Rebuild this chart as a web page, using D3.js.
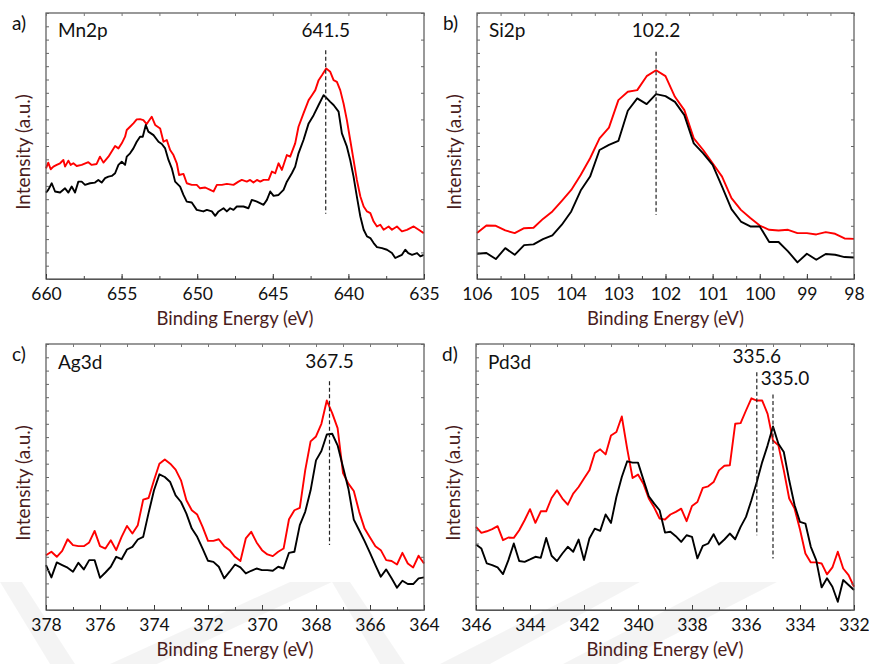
<!DOCTYPE html>
<html>
<head>
<meta charset="utf-8">
<script src="https://cdn.jsdelivr.net/npm/d3@7"></script>
<style>
  body { margin: 0; background: #fff; }
  svg text { font-family: Lato, "Open Sans", sans-serif; }
</style>
</head>
<body>
<svg id="chart" width="869" height="664"></svg>
<script>
// [binding energy (eV), intensity (a.u.)]
const mnRed = [[660.00,41.6],[659.85,43.75],[659.69,41.25],[659.51,42.25],[659.29,42.9],[659.07,43.5],[658.85,44.75],[658.74,42.25],[658.52,44.5],[658.37,42.9],[658.19,43.5],[657.97,42.5],[657.64,42.9],[657.20,43.9],[656.98,42.9],[656.65,43.25],[656.43,46],[656.20,43.75],[655.87,46],[655.43,50],[655.21,49.1],[654.99,51],[654.77,53.5],[654.66,56],[654.44,57.25],[654.22,58.5],[654.00,60],[653.78,60.1],[653.56,59.75],[653.34,58.25],[653.01,61],[652.78,57.9],[652.45,56.6],[652.23,51.6],[652.01,52.25],[651.79,48.5],[651.57,46.6],[651.35,43.5],[651.20,39.1],[650.91,39.5],[650.69,36],[650.36,35.4],[650.03,35.4],[649.81,34.1],[649.47,34.4],[649.14,33.5],[648.92,32.9],[648.70,35.4],[648.37,35.4],[648.04,35.75],[647.60,35.4],[647.27,36.6],[647.05,37.25],[646.72,36.6],[646.50,37.25],[646.28,36.25],[646.05,37.25],[645.83,36.6],[645.61,37.25],[645.28,37.25],[645.06,40.4],[644.84,39.75],[644.62,43.5],[644.40,41],[644.07,46.6],[643.85,46],[643.52,51],[643.30,57.25],[642.97,62.25],[642.63,67.25],[642.41,69.1],[642.19,71],[641.97,74.75],[641.75,76.6],[641.47,79.1],[641.20,77.9],[640.98,74.75],[640.76,74.1],[640.54,71],[640.32,66],[640.10,59.75],[639.88,52.25],[639.66,44.75],[639.44,37.25],[639.21,31],[638.99,27.25],[638.77,25.4],[638.55,24.75],[638.33,21.6],[638.11,19.75],[637.89,20.4],[637.67,18.5],[637.34,19.75],[637.12,18.5],[636.79,19.75],[636.46,17.9],[636.13,18.5],[635.68,19.75],[635.35,18.5],[635.02,17.25]];
const mnBlack = [[660.00,32.5],[659.85,33.5],[659.62,36],[659.40,32.9],[659.07,32.5],[658.74,34.1],[658.52,32.5],[658.30,34.75],[658.08,32.5],[657.86,36.6],[657.64,36.6],[657.42,35.4],[657.09,36],[656.76,36.25],[656.54,37.25],[656.32,36.25],[656.09,37.9],[655.87,38.5],[655.65,38.75],[655.43,39.75],[655.21,42.9],[654.99,44.1],[654.77,42.9],[654.66,46],[654.44,47.25],[654.22,49.1],[654.00,51.6],[653.78,53.5],[653.60,53.5],[653.40,57.9],[653.23,55.4],[652.89,54.1],[652.56,51.6],[652.34,50.75],[652.12,49.1],[651.90,44.75],[651.68,41.6],[651.46,36.6],[651.13,34.75],[650.91,31.6],[650.69,29.1],[650.36,28.75],[650.03,26],[649.59,25.4],[649.36,26],[649.03,25.4],[648.81,23.75],[648.59,25.4],[648.26,26.6],[648.04,25.4],[647.82,26.6],[647.60,26],[647.38,27.25],[646.94,27.25],[646.61,26.6],[646.39,29.75],[646.05,29.1],[645.61,27.9],[645.39,29.75],[645.17,32.9],[644.95,31.25],[644.62,31.6],[644.29,33.5],[644.07,36.6],[643.74,39.75],[643.52,42.25],[643.30,47.25],[642.97,52.25],[642.63,58.5],[642.30,61.6],[641.97,65.4],[641.64,69.1],[641.42,67.9],[641.20,66.6],[640.98,65.4],[640.65,62.9],[640.43,54.75],[640.10,49.75],[639.88,44.75],[639.66,38.5],[639.44,31],[639.21,23.5],[638.99,18.5],[638.77,16],[638.55,15.4],[638.33,13.5],[638.11,12],[637.78,11.6],[637.45,11],[637.12,9.75],[636.90,7.9],[636.68,8.5],[636.46,9.1],[636.24,11],[636.04,9.75],[635.79,9.1],[635.46,9.75],[635.24,8.5],[635.02,9.1]];

const siRed = [[106.0,17.25],[105.8,20.1],[105.6,20],[105.4,18.25],[105.2,17.25],[105.0,19.1],[104.8,19.25],[104.6,22.6],[104.4,25.4],[104.2,29.4],[104.0,33.5],[103.8,39.1],[103.6,45.4],[103.4,52.9],[103.2,56.9],[103.0,67.25],[102.8,70.4],[102.6,71],[102.4,76.25],[102.2,78.5],[102.0,76.25],[101.8,68.5],[101.6,63.5],[101.4,52.9],[101.2,48.5],[101.0,43.5],[100.8,38.5],[100.6,30.4],[100.4,26],[100.2,22.9],[100.0,20.1],[99.8,18.5],[99.6,18.25],[99.4,18.5],[99.2,17.25],[99.0,17.25],[98.8,16.75],[98.6,17.6],[98.4,17],[98.2,15.25],[98.0,15.1]];
const siBlack = [[106.0,9.5],[105.8,9.75],[105.6,7.5],[105.4,11.6],[105.2,9.1],[105.0,12.75],[104.8,13],[104.6,15],[104.4,16.4],[104.2,20.4],[104.0,25.4],[103.8,33.25],[103.6,38.5],[103.4,48.5],[103.2,50.4],[103.0,51.9],[102.8,63.25],[102.6,67.9],[102.4,65.75],[102.2,69.5],[102.0,68.75],[101.8,66.6],[101.6,61.6],[101.4,51],[101.2,47.25],[101.0,42.9],[100.8,34.75],[100.6,26.25],[100.4,21.6],[100.2,19.75],[100.0,19.75],[99.8,13.9],[99.6,13.9],[99.4,10.4],[99.2,6.25],[99.0,9.5],[98.8,7.25],[98.6,9.4],[98.4,9.1],[98.2,8.25],[98.0,8.1]];

const agRed = [[378.0,20.6],[377.8,21.9],[377.6,20],[377.4,22.25],[377.2,26.6],[377.0,24.4],[376.8,24],[376.6,24],[376.4,25.4],[376.2,29.75],[376.0,24],[375.8,23.1],[375.6,26.25],[375.4,22.5],[375.2,27.5],[375.0,31.6],[374.8,28.75],[374.6,31.9],[374.4,41.5],[374.2,42.1],[374.0,48.75],[373.8,55],[373.6,56.6],[373.4,55],[373.2,52.75],[373.0,48.75],[372.8,41.25],[372.6,37.5],[372.4,35.9],[372.2,31.25],[372.0,26],[371.8,26],[371.6,26.6],[371.4,24],[371.2,22.5],[371.0,20],[370.8,18.4],[370.6,26.9],[370.4,29.4],[370.2,25.4],[370.0,22.5],[369.8,20.9],[369.6,20.25],[369.4,21.9],[369.2,23.1],[369.0,34.1],[368.8,37.5],[368.6,38.4],[368.4,52.5],[368.2,63.4],[368.0,65.25],[367.8,70],[367.6,78.75],[367.4,74],[367.2,68.4],[367.0,51.5],[366.8,47.5],[366.6,44.75],[366.4,36.9],[366.2,30.6],[366.0,27.25],[365.8,24],[365.6,22.5],[365.4,18.75],[365.2,18.4],[365.0,17.1],[364.8,21.5],[364.6,17.5],[364.4,16],[364.2,20.4],[364.0,17.5]];
const agBlack = [[378.0,16.9],[377.8,12.25],[377.6,17.9],[377.4,16.9],[377.2,15.9],[377.0,14.4],[376.8,17.75],[376.6,15.25],[376.4,18.75],[376.2,18.75],[376.0,12.1],[375.8,14.1],[375.6,16.25],[375.4,20],[375.2,19.1],[375.0,22.75],[374.8,23.75],[374.6,26.5],[374.4,27.5],[374.2,36.5],[374.0,45],[373.8,51],[373.6,50],[373.4,48.1],[373.2,43.1],[373.0,40.6],[372.8,36.25],[372.6,30.6],[372.4,27.5],[372.2,23.1],[372.0,18.5],[371.8,18.1],[371.6,16.25],[371.4,11.9],[371.2,14.4],[371.0,17.1],[370.8,16],[370.6,13.75],[370.4,14.75],[370.2,15.6],[370.0,15],[369.8,15],[369.6,14.75],[369.4,16.25],[369.2,15.6],[369.0,21.5],[368.8,21.9],[368.6,31.9],[368.4,36.9],[368.2,45],[368.0,56.25],[367.8,59.75],[367.6,66],[367.4,66.25],[367.2,61.9],[367.0,53.75],[366.8,45.6],[366.6,34],[366.4,30],[366.2,25.9],[366.0,21.5],[365.8,16.9],[365.6,12.5],[365.4,15.25],[365.2,11.9],[365.0,8.4],[364.8,11],[364.6,9.75],[364.4,9.75],[364.2,11.9],[364.0,12.25]];

const pdRed = [[346.0,31.25],[345.8,29],[345.6,29.6],[345.4,30.4],[345.2,31.5],[345.0,26.25],[344.8,27.25],[344.6,27.1],[344.4,30],[344.2,33.75],[344.0,37.9],[343.8,32.75],[343.6,37.1],[343.4,37.1],[343.2,42.1],[343.0,45],[342.8,41.9],[342.6,39.6],[342.4,43.75],[342.2,46.25],[342.0,49.4],[341.8,52.5],[341.6,59],[341.4,60.4],[341.2,58.5],[341.0,65.6],[340.8,66.9],[340.6,72.75],[340.4,60.6],[340.2,49.6],[340.0,50.9],[339.8,47.5],[339.6,41.9],[339.4,38.5],[339.2,34.4],[339.0,34],[338.8,35.9],[338.6,36.9],[338.4,38.1],[338.2,33.4],[338.0,39.1],[337.8,40.6],[337.6,45.9],[337.4,46.5],[337.2,48.1],[337.0,52.5],[336.8,54.25],[336.6,54.4],[336.4,70],[336.2,70.25],[336.0,75],[335.8,79.6],[335.6,78.75],[335.4,78.75],[335.2,73.75],[335.0,63.75],[334.8,61.9],[334.6,52.5],[334.4,41.9],[334.2,38.1],[334.0,30.25],[333.8,21.25],[333.6,17.9],[333.4,17.9],[333.2,17.5],[333.0,13.4],[332.8,16],[332.6,21.9],[332.4,15.6],[332.2,13.1],[332.0,8.75]];
const pdBlack = [[346.0,24.6],[345.8,23.1],[345.6,17.5],[345.4,16.9],[345.2,16],[345.0,13.5],[344.8,18.75],[344.6,25],[344.4,18.4],[344.2,18.1],[344.0,19],[343.8,20],[343.6,19.6],[343.4,27.1],[343.2,20.4],[343.0,18.4],[342.8,21.25],[342.6,23.75],[342.4,21.9],[342.2,26.5],[342.0,18.75],[341.8,26.9],[341.6,30.6],[341.4,29.75],[341.2,35.9],[341.0,32.75],[340.8,42.5],[340.6,50],[340.4,55.9],[340.2,55.4],[340.0,55.4],[339.8,49],[339.6,42.75],[339.4,40],[339.2,37.5],[339.0,29.1],[338.8,29.4],[338.6,27.75],[338.4,25.6],[338.2,28.1],[338.0,27.5],[337.8,19.4],[337.6,24.1],[337.4,25],[337.2,28.5],[337.0,24.6],[336.8,26.5],[336.6,28.75],[336.4,26.6],[336.2,31.25],[336.0,35],[335.8,41.25],[335.6,48.1],[335.4,55.6],[335.2,61.9],[335.0,69],[334.8,62.5],[334.6,59.4],[334.4,48.75],[334.2,39.4],[334.0,33.1],[333.8,32.5],[333.6,23.75],[333.4,18.75],[333.2,8.5],[333.0,11.9],[332.8,8.75],[332.6,3.1],[332.4,11.25],[332.2,9.4],[332.0,7.5]];

// peak markers: [position, top, bottom]
const mnPeaks = [[641.5, 86, 24.5]];
const siPeaks = [[102.2, 85.4, 24.1]];
const agPeaks = [[367.5, 86, 24.4]];
const pdPeaks = [[335.6, 89.4, 28.1], [335.0, 81, 19.4]];

const mnTicks = [660, 655, 650, 645, 640, 635];
const siTicks = [106, 105, 104, 103, 102, 101, 100, 99, 98];
const agTicks = [378, 376, 374, 372, 370, 368, 366, 364];
const pdTicks = [346, 344, 342, 340, 338, 336, 334, 332];

const svg = d3.select("#chart");
const labelColor = "#4a1d1d";
const frameColor = "#555";

// faint background watermark
const marks = [
    [[0, 582], [22, 582], [75, 664], [50, 664]],
    [[290, 582], [332, 582], [157, 664], [110, 664]],
    [[332, 582], [350, 582], [405, 664], [380, 664]],
    [[600, 582], [640, 582], [490, 664], [440, 664]],
    [[720, 582], [777, 582], [617, 664], [563, 664]]
];
svg.append("g").selectAll("path").data(marks).enter().append("path")
    .attr("d", d => "M" + d.join("L") + "Z")
    .attr("fill", "#000").attr("opacity", 0.045);

const panels = [
    { letter: "a)", name: "Mn2p", box: [46, 424, 13, 279], domain: [660, 635], ticks: mnTicks, minor: 2.5,
      red: mnRed, black: mnBlack, peaks: mnPeaks, labels: [{ text: "641.5", at: 641.5, dy: 24, anchor: "middle" }], nameDy: 24 },
    { letter: "b)", name: "Si2p", box: [477, 854, 13, 279], domain: [106, 98], ticks: siTicks, minor: 0.5,
      red: siRed, black: siBlack, peaks: siPeaks, labels: [{ text: "102.2", at: 102.2, dy: 24, anchor: "middle" }], nameDy: 24 },
    { letter: "c)", name: "Ag3d", box: [46, 424, 344, 610], domain: [378, 364], ticks: agTicks, minor: 1,
      red: agRed, black: agBlack, peaks: agPeaks, labels: [{ text: "367.5", at: 367.5, dy: 24, anchor: "middle" }], nameDy: 25 },
    { letter: "d)", name: "Pd3d", box: [476, 854, 344, 610], domain: [346, 332], ticks: pdTicks, minor: 1,
      red: pdRed, black: pdBlack, peaks: pdPeaks,
      labels: [{ text: "335.6", at: 335.6, dy: 19, anchor: "middle" }, { text: "335.0", at: 335.0, dy: 41, anchor: "middle", dx: 12 }], nameDy: 25 }
];

panels.forEach(drawPanel);

function drawPanel(p) {
    const [left, right, top, bottom] = p.box;
    const x = d3.scaleLinear().domain(p.domain).range([left, right]);
    const y = d3.scaleLinear().domain([0, 100]).range([bottom, top]);
    const g = svg.append("g");

    const line = d3.line().x(d => x(d[0])).y(d => y(d[1]));
    g.append("path").datum(p.red).attr("d", line)
        .attr("fill", "none").attr("stroke", "#ff0000").attr("stroke-width", 1.9).attr("stroke-linejoin", "round");
    g.append("path").datum(p.black).attr("d", line)
        .attr("fill", "none").attr("stroke", "#000").attr("stroke-width", 1.9).attr("stroke-linejoin", "round");

    g.selectAll(".peak").data(p.peaks).enter().append("line")
        .attr("x1", d => x(d[0])).attr("x2", d => x(d[0]))
        .attr("y1", d => y(d[1])).attr("y2", d => y(d[2]))
        .attr("stroke", "#222").attr("stroke-width", 1.2).attr("stroke-dasharray", "4,2.5");

    // frame
    g.append("rect").attr("x", left).attr("y", top)
        .attr("width", right - left).attr("height", bottom - top)
        .attr("fill", "none").attr("stroke", frameColor).attr("stroke-width", 1.2);

    // bottom axis, ticks pointing inward
    const lo = Math.min(...p.domain), hi = Math.max(...p.domain);
    const minorTicks = d3.range(lo, hi + 1e-9, p.minor);
    g.append("g").attr("transform", `translate(0,${bottom})`)
        .call(d3.axisBottom(x).tickValues(p.ticks).tickFormat(d3.format("d")).tickSizeInner(-5).tickSizeOuter(0))
        .call(a => a.select(".domain").attr("stroke", frameColor))
        .call(a => a.selectAll(".tick line").attr("stroke", "#333"))
        .call(a => a.selectAll("text").attr("y", 9).attr("dy", "0.71em")
            .attr("font-size", 17.5).attr("fill", "#111").style("font-family", "Lato, sans-serif"));
    g.append("g").attr("transform", `translate(0,${bottom})`)
        .call(d3.axisBottom(x).tickValues(minorTicks).tickFormat("").tickSizeInner(-3).tickSizeOuter(0))
        .call(a => a.select(".domain").remove())
        .call(a => a.selectAll(".tick line").attr("stroke", "#444"));
    g.append("g").attr("transform", `translate(0,${top})`)
        .call(d3.axisTop(x).tickValues(minorTicks).tickFormat("").tickSizeInner(-3).tickSizeOuter(0))
        .call(a => a.select(".domain").remove())
        .call(a => a.selectAll(".tick line").attr("stroke", "#777"));

    // unlabeled intensity ticks
    g.append("g").attr("transform", `translate(${left},0)`)
        .call(d3.axisLeft(y).ticks(16).tickFormat("").tickSizeInner(-3).tickSizeOuter(0))
        .call(a => a.select(".domain").remove())
        .call(a => a.selectAll(".tick line").attr("stroke", "#666"));
    g.append("g").attr("transform", `translate(${right},0)`)
        .call(d3.axisRight(y).ticks(10).tickFormat("").tickSizeInner(-3).tickSizeOuter(0))
        .call(a => a.select(".domain").remove())
        .call(a => a.selectAll(".tick line").attr("stroke", "#666"));

    g.append("text").attr("x", (left + right) / 2 + 0).attr("y", bottom + 46)
        .attr("text-anchor", "middle").attr("font-size", 18.5).attr("fill", labelColor)
        .text("Binding Energy (eV)");
    g.append("text")
        .attr("transform", `translate(${left - 24},${(top + bottom) / 2 + 6}) rotate(-90)`)
        .attr("text-anchor", "middle").attr("dominant-baseline", "central")
        .attr("font-size", 19).attr("fill", labelColor)
        .text("Intensity (a.u.)");

    g.append("text").attr("x", left - 34).attr("y", top + 17)
        .attr("font-size", 19).attr("fill", "#111").text(p.letter);
    g.append("text").attr("x", left + 12).attr("y", top + p.nameDy)
        .attr("font-size", 19).attr("fill", "#111").text(p.name);
    p.labels.forEach(l => {
        g.append("text").attr("x", x(l.at) + (l.dx || 0)).attr("y", top + l.dy)
            .attr("text-anchor", l.anchor).attr("font-size", 19).attr("fill", "#111").text(l.text);
    });
}
</script>
</body>
</html>
